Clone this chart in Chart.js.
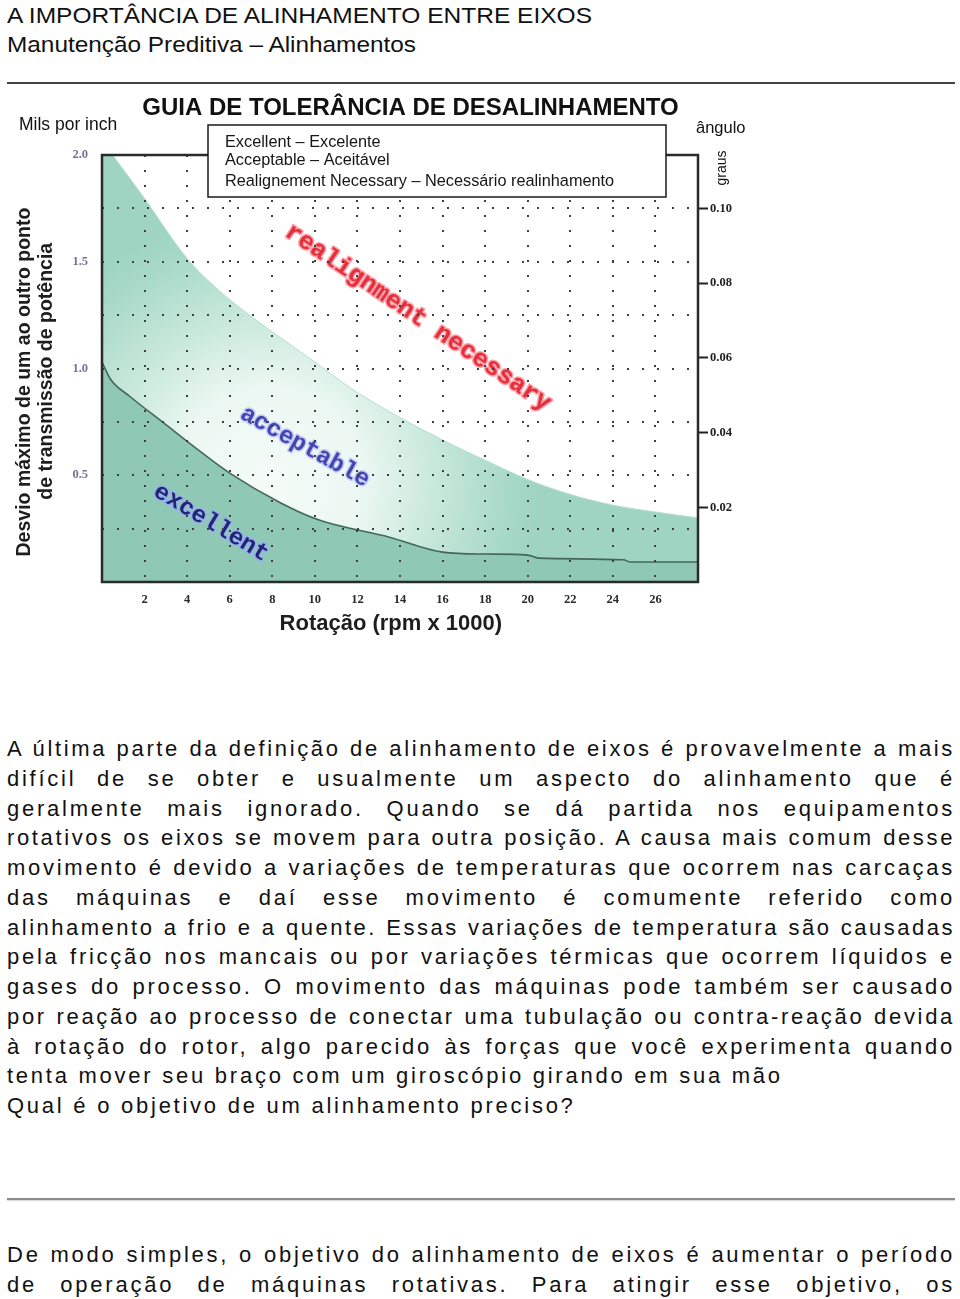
<!DOCTYPE html>
<html><head><meta charset="utf-8">
<script src="https://cdn.jsdelivr.net/npm/chart.js@4.4.1/dist/chart.umd.min.js"></script>
<style>
html,body{margin:0;padding:0;background:#fff;}
body{width:960px;height:1299px;position:relative;overflow:hidden;font-family:"Liberation Sans",Arial,sans-serif;color:#111;}
.hd{position:absolute;left:7px;font-size:22px;line-height:26px;white-space:nowrap;transform-origin:0 0;}
.rule{position:absolute;left:7px;width:948px;}
.tl{position:absolute;left:7px;width:948px;font-size:22px;line-height:26px;color:#111;}
.j{text-align:justify;text-align-last:justify;}
.l{white-space:nowrap;}
#wrap{position:absolute;left:0;top:85px;width:760px;height:560px;}
</style></head><body>
<div class="hd" id="h1" style="top:3px">A IMPORTÂNCIA DE ALINHAMENTO ENTRE EIXOS</div>
<div class="hd" id="h2" style="top:32px">Manutenção Preditiva – Alinhamentos</div>
<div class="rule" style="top:82px;height:2px;background:#444"></div>
<div id="wrap"><canvas id="c" width="760" height="560"></canvas></div>
<div id="body"></div>
<div class="rule" style="top:1198px;height:2px;background:#8c8c8c;box-shadow:0 1px 1px #d8d8d8"></div>
<script>
// ---- chart data ----
const xTicks = [2, 4, 6, 8, 10, 12, 14, 16, 18, 20, 22, 24, 26];
const yGrid = [0.25, 0.5, 0.75, 1.0, 1.25, 1.5, 1.75, 2.0];
const yLabels = [0.5, 1.0, 1.5, 2.0];
const angleTicks = [0.02, 0.04, 0.06, 0.08, 0.10];
const excellentX = [0, 0.4, 1.3, 2.9, 4.5, 6.0, 8.4, 10.2, 13.5, 16.0, 18.0, 20.0, 20.5, 24.5, 24.8, 28];
const excellentY = [1.03, 0.95, 0.87, 0.745, 0.62, 0.51, 0.37, 0.29, 0.21, 0.14, 0.131, 0.126, 0.112, 0.104, 0.094, 0.094];
const acceptableX = [0, 0.5, 1.9, 4.0, 5.5, 7.0, 10.0, 11.8, 14.0, 16.0, 18.0, 20.0, 22.0, 24.0, 26.0, 28];
const acceptableY = [2.07, 2.0, 1.81, 1.515, 1.365, 1.245, 1.03, 0.90, 0.77, 0.665, 0.57, 0.48, 0.41, 0.36, 0.328, 0.30];
const legendLines = ['Excellent – Excelente', 'Acceptable – Aceitável', 'Realignement Necessary – Necessário realinhamento'];
const chartTitle = 'GUIA DE TOLERÂNCIA DE DESALINHAMENTO';
const xTitle = 'Rotação (rpm x 1000)';
const yTitle = ['Desvio máximo de um ao outro ponto', 'de transmissão de potência'];
const yUnit = 'Mils por inch';
const y2Title = 'ângulo';
const y2Unit = 'graus';
const regionText = ['realignment necessary', 'acceptable', 'excellent'];

// label placement (data coordinates) and styles
const regionLabels = [
  {x: 14.84, y: 1.237, angle: 34, color: '#e3303d', halo: 'rgba(255,150,160,0.9)', size: 25},
  {x: 9.53, y: 0.632, angle: 29, color: '#4545b0', halo: 'rgba(190,200,245,0.9)', size: 24},
  {x: 5.12, y: 0.276, angle: 31, color: '#23266f', halo: 'rgba(150,175,245,0.95)', size: 24}
];

const bodyLines = [
  ['A última parte da definição de alinhamento de eixos é provavelmente a mais', 1],
  ['difícil de se obter e usualmente um aspecto do alinhamento que é', 1],
  ['geralmente mais ignorado. Quando se dá partida nos equipamentos', 1],
  ['rotativos os eixos se movem para outra posição. A causa mais comum desse', 1],
  ['movimento é devido a variações de temperaturas que ocorrem nas carcaças', 1],
  ['das máquinas e daí esse movimento é comumente referido como', 1],
  ['alinhamento a frio e a quente. Essas variações de temperatura são causadas', 1],
  ['pela fricção nos mancais ou por variações térmicas que ocorrem líquidos e', 1],
  ['gases do processo. O movimento das máquinas pode também ser causado', 1],
  ['por reação ao processo de conectar uma tubulação ou contra-reação devida', 1],
  ['à rotação do rotor, algo parecido às forças que você experimenta quando', 1],
  ['tenta mover seu braço com um giroscópio girando em sua mão', 0],
  ['Qual é o objetivo de um alinhamento preciso?', 0]
];
const bodyLines2 = [
  'De modo simples, o objetivo do alinhamento de eixos é aumentar o período',
  'de operação de máquinas rotativas. Para atingir esse objetivo, os'
];

// ---- page text ----
const bodyEl = document.getElementById('body');
const probe = document.createElement('span');
probe.style.cssText = 'position:absolute;visibility:hidden;white-space:nowrap;font-size:22px;font-family:"Liberation Sans",Arial,sans-serif';
document.body.appendChild(probe);
function natural(text, ls) {
  probe.style.letterSpacing = ls + 'px';
  probe.textContent = text;
  return probe.getBoundingClientRect().width;
}
const baseLs = (776 - natural(bodyLines[11][0], 0)) / bodyLines[11][0].length;
function addLine(text, top, just) {
  const d = document.createElement('div');
  d.className = 'tl ' + (just ? 'j' : 'l');
  d.style.top = top + 'px';
  let ls = baseLs;
  const w = natural(text, ls);
  if (w > 940) ls = ls - (w - 940) / text.length;
  d.style.letterSpacing = ls.toFixed(2) + 'px';
  d.textContent = text;
  bodyEl.appendChild(d);
}
bodyLines.forEach((b, i) => addLine(b[0], Math.round(736 + 29.75 * i), b[1]));
bodyLines2.forEach((t, i) => addLine(t, 1242 + 30 * i, 1));
probe.remove();
function fitWidth(id, target) {
  const e = document.getElementById(id);
  const w = e.getBoundingClientRect().width;
  e.style.transform = 'scaleX(' + (target / w).toFixed(4) + ')';
}
fitWidth('h1', 585);
fitWidth('h2', 409);

// ---- chart ----
const angleMax = 0.10 * 2.0 / 1.75;
const dotColor = '#3f3f3f';
const tickFont = {family: '"Liberation Serif", serif', size: 12.5, weight: 'bold'};

const deco = {
  id: 'deco',
  afterDatasetsDraw(chart) {
    const {ctx, scales} = chart;
    ctx.save();
    regionLabels.forEach((l, i) => {
      const px = scales.x.getPixelForValue(l.x);
      const py = scales.y.getPixelForValue(l.y);
      ctx.save();
      ctx.translate(px, py);
      ctx.rotate(l.angle * Math.PI / 180);
      ctx.font = 'bold ' + l.size + 'px "Liberation Mono", "DejaVu Sans Mono", monospace';
      ctx.textAlign = 'center';
      ctx.textBaseline = 'middle';
      ctx.lineWidth = 3;
      ctx.strokeStyle = l.halo;
      ctx.lineJoin = 'round';
      ctx.strokeText(regionText[i], 0, 0);
      ctx.fillStyle = l.color;
      ctx.fillText(regionText[i], 0, 0);
      ctx.restore();
    });
    ctx.restore();
  },
  afterDraw(chart) {
    const {ctx, chartArea: a} = chart;
    ctx.save();
    // plot frame
    ctx.strokeStyle = '#2a2a2a';
    ctx.lineWidth = 2.5;
    ctx.strokeRect(a.left, a.top, a.right - a.left, a.bottom - a.top);
    // legend box
    const bl = a.left + 106, br = a.right - 32, bt = a.top - 30, bb = a.top + 42;
    ctx.fillStyle = '#fff';
    ctx.fillRect(bl, bt, br - bl, bb - bt);
    ctx.strokeStyle = '#1a1a1a';
    ctx.lineWidth = 1.5;
    ctx.strokeRect(bl, bt, br - bl, bb - bt);
    ctx.fillStyle = '#151515';
    ctx.font = '16.3px "Liberation Sans", Arial, sans-serif';
    ctx.textAlign = 'left';
    ctx.textBaseline = 'middle';
    const ly = [a.top - 12, a.top + 6, a.top + 27];
    legendLines.forEach((t, i) => ctx.fillText(t, bl + 17, ly[i], 390));
    // title
    ctx.font = 'bold 24px "Liberation Sans", Arial, sans-serif';
    ctx.textAlign = 'center';
    ctx.fillStyle = '#111';
    ctx.fillText(chartTitle, 410.5, a.top - 47, 545);
    // units
    ctx.font = '17.5px "Liberation Sans", Arial, sans-serif';
    ctx.textAlign = 'left';
    ctx.fillText(yUnit, 19, a.top - 30, 103);
    ctx.font = '16.5px "Liberation Sans", Arial, sans-serif';
    ctx.fillText(y2Title, 696, a.top - 27, 50);
    ctx.save();
    ctx.translate(722, a.top + 13);
    ctx.rotate(-Math.PI / 2);
    ctx.textAlign = 'center';
    ctx.font = '14px "Liberation Sans", Arial, sans-serif';
    ctx.fillText(y2Unit, 0, 0);
    ctx.restore();
    ctx.restore();
  }
};

new Chart(document.getElementById('c'), {
  type: 'line',
  data: {
    datasets: [
      {
        label: legendLines[0],
        data: excellentX.map((x, i) => ({x: x, y: excellentY[i]})),
        fill: 'origin',
        backgroundColor: '#8fc8b4',
        borderColor: '#43685b',
        borderWidth: 1.6,
        pointRadius: 0,
        cubicInterpolationMode: 'monotone',
        yAxisID: 'y'
      },
      {
        label: legendLines[1],
        data: acceptableX.map((x, i) => ({x: x, y: acceptableY[i]})),
        fill: 'origin',
        backgroundColor: (c) => {
          const a = c.chart.chartArea;
          if (!a) return '#cdeadf';
          const cx = a.left + 168, cy = a.bottom - 102;
          const g = c.chart.ctx.createRadialGradient(cx, cy, 0, cx, cy, 270);
          g.addColorStop(0, '#f5fbf8');
          g.addColorStop(0.35, '#ebf7f2');
          g.addColorStop(0.65, '#c3e6d9');
          g.addColorStop(0.9, '#a6d8c7');
          g.addColorStop(1, '#9fd4c2');
          return g;
        },
        borderColor: '#b4ddcf',
        borderWidth: 1,
        pointRadius: 0,
        cubicInterpolationMode: 'monotone',
        yAxisID: 'y'
      }
    ]
  },
  options: {
    responsive: false,
    animation: false,
    devicePixelRatio: 1,
    layout: {padding: {top: 70, left: 0, right: 0, bottom: 0}},
    plugins: {legend: {display: false}, tooltip: {enabled: false}},
    scales: {
      x: {
        type: 'linear', min: 0, max: 28,
        afterBuildTicks: s => { s.ticks = xTicks.map(v => ({value: v})); },
        afterFit: s => { s.height = 63; },
        grid: {color: dotColor, lineWidth: 2, drawTicks: false, z: 1},
        border: {display: false, dash: [2, 13]},
        ticks: {padding: 10, color: '#2a2a2a', font: tickFont, autoSkip: false, maxRotation: 0},
        title: {display: true, text: xTitle + '   ', color: '#1e1e1e',
          font: {family: '"Liberation Sans", Arial, sans-serif', size: 22, weight: 'bold', lineHeight: 1.2},
          padding: {top: 0, bottom: 8}}
      },
      y: {
        type: 'linear', position: 'left', min: 0, max: 2.0,
        afterBuildTicks: s => { s.ticks = yGrid.map(v => ({value: v})); },
        afterFit: s => { s.width = 102; },
        grid: {color: c => (c.tick && c.tick.value >= 2) ? 'rgba(0,0,0,0)' : dotColor, lineWidth: 2, drawTicks: false, z: 1},
        border: {display: false, dash: [2, 13]},
        ticks: {padding: 14, color: '#72729f', font: tickFont, autoSkip: false,
          callback: v => yLabels.includes(v) ? v.toFixed(1) : ''},
        title: {display: true, text: [yTitle[0] + '     ', yTitle[1] + ' '], color: '#1e1e1e',
          font: {family: '"Liberation Sans", Arial, sans-serif', size: 19.5, weight: 'bold', lineHeight: 1.13},
          padding: {top: 14, bottom: 0}}
      },
      y2: {
        type: 'linear', position: 'right', min: 0, max: angleMax, display: true,
        afterBuildTicks: s => { s.ticks = angleTicks.map(v => ({value: v})); },
        afterFit: s => { s.width = 62; },
        grid: {drawOnChartArea: false, drawTicks: true, tickLength: 10, tickColor: '#222', tickWidth: 2},
        border: {display: false},
        ticks: {padding: 2, color: '#222', font: tickFont, autoSkip: false, callback: v => v.toFixed(2)}
      }
    }
  },
  plugins: [deco]
});
</script>
</body></html>
